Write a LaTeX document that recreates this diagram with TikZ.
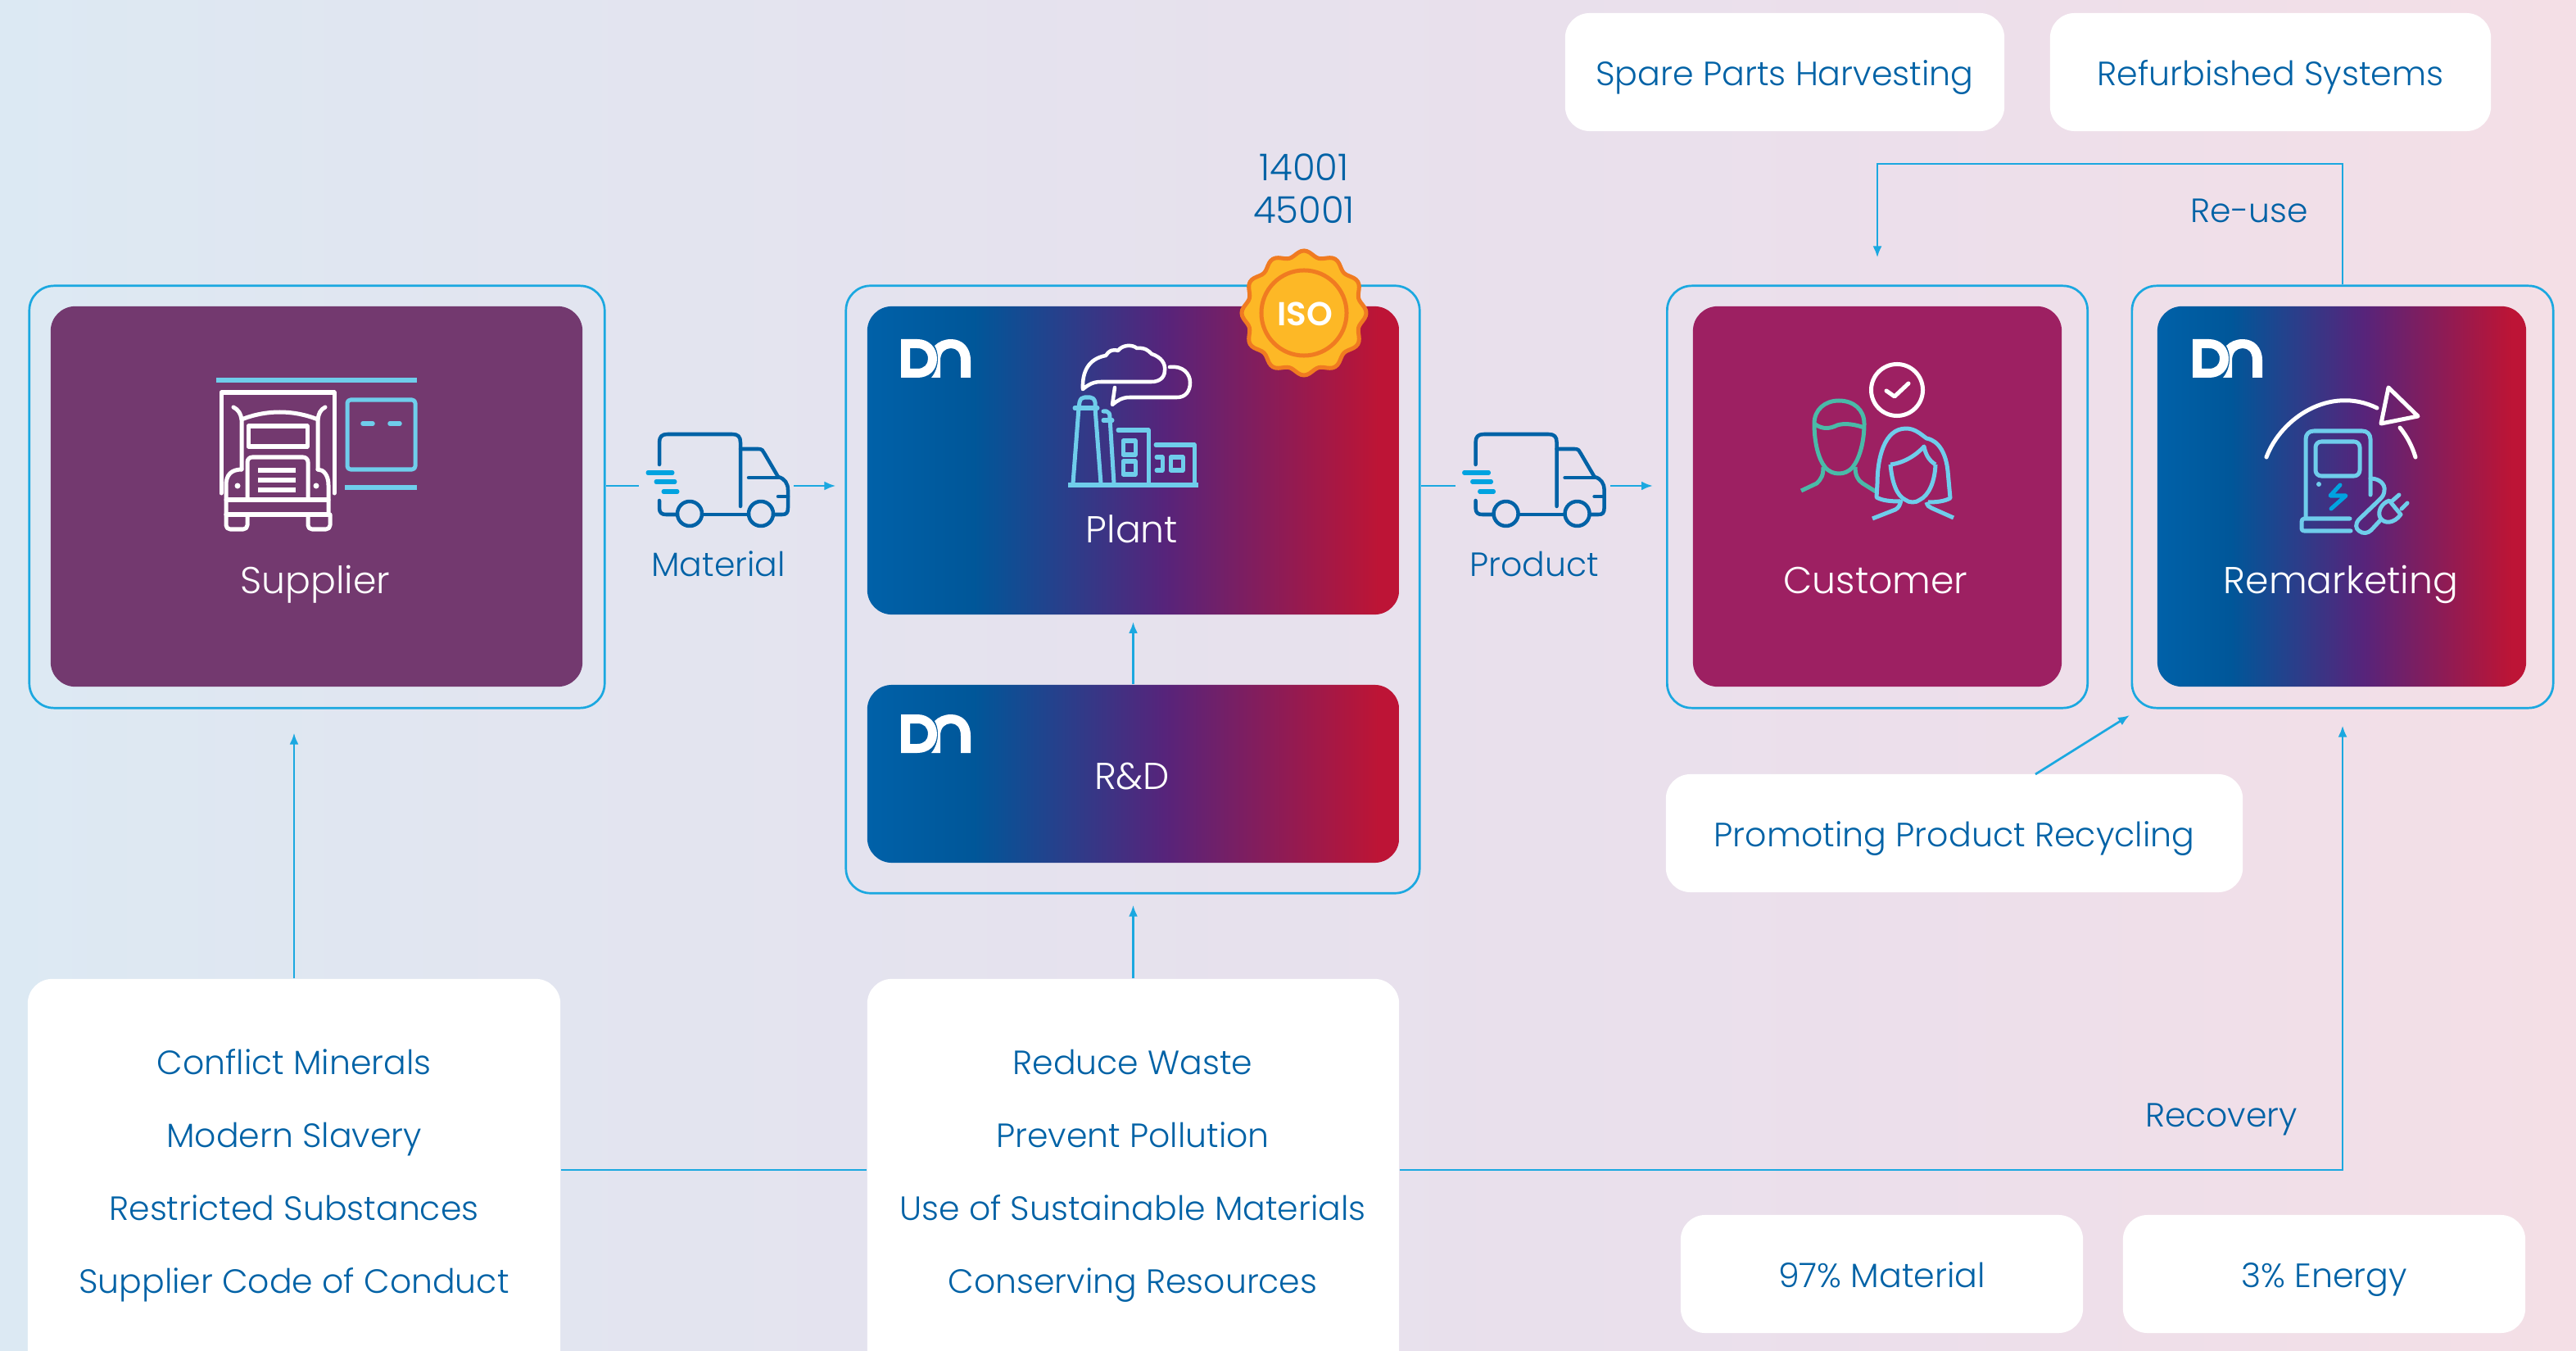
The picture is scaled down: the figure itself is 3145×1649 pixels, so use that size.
\documentclass[tikz,border=0pt]{standalone}
\usepackage{fontspec}
\setmainfont{Poppins}[UprightFont=* Light,BoldFont=* SemiBold]
\usetikzlibrary{arrows.meta}
\definecolor{txtblue}{HTML}{0062A6}
\definecolor{connblue}{HTML}{1BA8E0}
\definecolor{iconblue}{HTML}{6FCDEB}
\definecolor{iconcyan}{HTML}{00A3E0}
\definecolor{icongreen}{HTML}{4ABAA8}
\definecolor{suppurple}{HTML}{73396F}
\definecolor{custmag}{HTML}{9D2062}
\definecolor{isofill}{HTML}{FDB826}
\definecolor{isoline}{HTML}{F07B21}
\pgfdeclarehorizontalshading{dngrad}{100bp}{rgb(0bp)=(0,0.38,0.66); rgb(25bp)=(0,0.38,0.66); rgb(35bp)=(0,0.34,0.60); rgb(53bp)=(0.34,0.14,0.48); rgb(73bp)=(0.74,0.08,0.21); rgb(100bp)=(0.74,0.08,0.21)}
\pgfdeclarehorizontalshading{bggrad}{100bp}{rgb(0bp)=(0.863,0.914,0.953); rgb(25bp)=(0.863,0.914,0.953); rgb(35bp)=(0.886,0.898,0.941); rgb(50bp)=(0.906,0.882,0.929); rgb(62bp)=(0.925,0.875,0.922); rgb(75bp)=(0.957,0.875,0.902); rgb(100bp)=(0.957,0.875,0.902)}
\tikzset{
  x=0.01cm,y=-0.01cm,
  frame/.style={draw=connblue,line width=0.027cm,rounded corners=0.3cm,inner sep=0pt,fill=none},
  solidcard/.style={rounded corners=0.3cm,inner sep=0pt,text=white},
  gradcard/.style={solidcard,shading=dngrad},
  whitecard/.style={fill=white,rounded corners=0.3cm,inner sep=0pt,text=txtblue,font=\fontsize{11.7}{15}\selectfont,align=center,text height=0.43cm,text depth=0.1cm},
  plainlabel/.style={text=txtblue,inner sep=0pt,font=\fontsize{11.65}{15}\selectfont,text height=0.4cm,text depth=0.1cm},
  isolabel/.style={text=txtblue,inner sep=0pt,font=\fontsize{12.8}{15}\selectfont,text height=0.4cm,text depth=0.1cm},
  cardlabel/.style={text=white,inner sep=0pt,font=\fontsize{13}{15}\selectfont,text height=0.43cm,text depth=0.1cm},
  conn/.style={draw=connblue,line width=0.027cm},
  arrowconn/.style={conn,-{Latex[length=0.14cm,width=0.11cm]}},
  icw/.style={draw=white,line width=0.05cm,line cap=round,line join=round},
  icb/.style={draw=iconblue,line width=0.05cm,line cap=round,line join=round},
  icg/.style={draw=icongreen,line width=0.05cm,line join=round},
  dnlogo/.pic={
    \fill[white,even odd rule] (0,0)--(20,0) .. controls (34,0) and (44,10) .. (44,24) .. controls (44,38) and (34,47) .. (20,47)--(0,47)--cycle
      (11,11)--(20,11) .. controls (28,11) and (33,16) .. (33,24) .. controls (33,31) and (28,36) .. (20,36)--(11,36)--cycle;
    \fill[white] (37,47)--(48,47)--(48,26) .. controls (48,16) and (54,11) .. (61,11) .. controls (68,11) and (73,16) .. (73,26)--(73,47)--(85,47)--(85,26) .. controls (85,10) and (75,0) .. (61,0) .. controls (53,0) and (46,3) .. (41,8) .. controls (44,13) and (45,18) .. (45,24) .. controls (45,33) and (42,41) .. (37,47)--cycle;
  },
  truckicon/.pic={
    \begin{scope}[draw=txtblue,line width=0.045cm,line cap=round,line join=round]
      \draw (805,567)--(805,540) .. controls (805,533) and (808,530) .. (815,530)--(894,530) .. controls (901,530) and (904,533) .. (904,540)--(904,618);
      \draw (904,548)--(926,548) .. controls (930,548) and (932,550) .. (933,553)--(950,582) .. controls (958,584) and (962,590) .. (962,598)--(962,620) .. controls (962,626) and (960,628) .. (955,628)--(944,628);
      \draw (914,583)--(950,583);
      \draw (950,606)--(962,606);
      \draw (805,611)--(805,620) .. controls (805,626) and (808,628) .. (813,628)--(827,628);
      \draw (857,628)--(914,628);
      \draw (842,627) circle [radius=0.15cm];
      \draw (929,627) circle [radius=0.15cm];
    \end{scope}
    \begin{scope}[draw=iconcyan,line width=0.05cm,line cap=round]
      \draw (791,577)--(821,577);
      \draw (801,588)--(824,588);
      \draw (810,600)--(827,600);
    \end{scope}
  }
}
\begin{document}
\begin{tikzpicture}
\useasboundingbox (0,0) rectangle (3145,1649);
\clip (0,0) rectangle (3145,1649);
\shade[shading=bggrad] (0,0) rectangle (3145,1649);

% outer frames
\node[frame,minimum width=7.02cm,minimum height=5.15cm] (fSup) at (387,606.5) {};
\node[frame,minimum width=7.00cm,minimum height=7.41cm] (fPlant) at (1383,719.5) {};
\node[frame,minimum width=5.13cm,minimum height=5.15cm] (fCust) at (2292,606.5) {};
\node[frame,minimum width=5.14cm,minimum height=5.15cm] (fRem) at (2860,606.5) {};

% cards
\node[solidcard,fill=suppurple,minimum width=6.49cm,minimum height=4.64cm] (cSup) at (386.5,606) {};
\node[gradcard,minimum width=6.49cm,minimum height=3.76cm] (cPlant) at (1383.5,562) {};
\node[gradcard,minimum width=6.49cm,minimum height=2.17cm] (cRD) at (1383.5,944.5) {};
\node[solidcard,fill=custmag,minimum width=4.50cm,minimum height=4.64cm] (cCust) at (2292,606) {};
\node[gradcard,minimum width=4.50cm,minimum height=4.64cm] (cRem) at (2859,606) {};

% white cards
\node[whitecard,minimum width=5.36cm,minimum height=1.44cm] (wSpare) at (2179,88) {Spare Parts Harvesting};
\node[whitecard,minimum width=5.38cm,minimum height=1.44cm] (wRefurb) at (2772,88) {Refurbished Systems};
\node[whitecard,minimum width=7.04cm,minimum height=1.44cm] (wPromo) at (2386,1017) {Promoting Product Recycling};
\node[whitecard,minimum width=4.91cm,minimum height=1.44cm] (wMat) at (2297.5,1555) {97\% Material};
\node[whitecard,minimum width=4.91cm,minimum height=1.44cm] (wEn) at (2837.5,1555) {3\% Energy};
\node[whitecard,minimum width=6.50cm,minimum height=5.25cm] (wLeft) at (359,1457.5) {};
\node[whitecard,minimum width=6.49cm,minimum height=5.25cm] (wMid) at (1383.5,1457.5) {};

% list texts
\node[plainlabel] (t1) at (359,1296) {Conflict Minerals};
\node[plainlabel] (t2) at (359,1385) {Modern Slavery};
\node[plainlabel] (t3) at (359,1474) {Restricted Substances};
\node[plainlabel] (t4) at (359,1563) {Supplier Code of Conduct};
\node[plainlabel] (t5) at (1383,1296) {Reduce Waste};
\node[plainlabel] (t6) at (1383,1385) {Prevent Pollution};
\node[plainlabel] (t7) at (1383,1474) {Use of Sustainable Materials};
\node[plainlabel] (t8) at (1383,1563) {Conserving Resources};

% labels
\node[cardlabel] (lSup) at (385,708) {Supplier};
\node[cardlabel] (lPlant) at (1382,646) {Plant};
\node[cardlabel] (lRD) at (1382,947) {R\&D};
\node[cardlabel] (lCust) at (2290,708) {Customer};
\node[cardlabel] (lRem) at (2858,708) {Remarketing};
\node[plainlabel] (lMat) at (877,688) {Material};
\node[plainlabel] (lProd) at (1873,688) {Product};
\node[plainlabel] (lReuse) at (2746,256) {Re-use};
\node[plainlabel] (lRecov) at (2712,1360) {Recovery};
\node[isolabel] (lIso1) at (1592,205) {14001};
\node[isolabel] (lIso2) at (1592,257) {45001};

% connectors
\coordinate (mL) at (780,593);
\coordinate (mR) at (969,593);
\coordinate (pL) at (1777,593);
\coordinate (pR) at (1966,593);
\draw[conn] (fSup.east |- mL) -- (mL);
\draw[arrowconn,shorten >=0.11cm] (mR) -- (fPlant.west |- mR);
\draw[conn] (fPlant.east |- pL) -- (pL);
\draw[arrowconn,shorten >=0.16cm] (pR) -- (fCust.west |- pR);
\draw[arrowconn,shorten >=0.29cm] (wLeft.north) -- (wLeft.north |- fSup.south);
\draw[arrowconn,shorten >=0.13cm] (wMid.north) -- (wMid.north |- fPlant.south);
\draw[arrowconn,shorten >=0.08cm] (cRD.north) -- (cPlant.south);
\coordinate (recY) at (0,1428);
\coordinate (reY) at (0,200);
\draw[conn] (wLeft.east |- recY) -- (wMid.west |- recY);
\draw[arrowconn,shorten >=0.20cm] (wMid.east |- recY) -| (fRem.south);
\draw[arrowconn,shorten >=0.33cm] (fRem.north) |- (fCust.north |- reY) -- (fCust.north);
\coordinate (promoStart) at (2485,945);
\coordinate (promoEnd) at (2600,873);
\draw[arrowconn] (promoStart) -- (promoEnd);

% logos
\pic at (1100,414) {dnlogo};
\pic at (1100,872) {dnlogo};
\pic at (2677,414) {dnlogo};
\path pic {truckicon};
\path pic[xshift=9.96cm] {truckicon};

% supplier truck icon
\begin{scope}
  \draw[draw=iconblue,line width=0.06cm] (264,464)--(509,464);
  \draw[draw=iconblue,line width=0.06cm] (421,595)--(509,595);
  \draw[icb,rounded corners=0.04cm] (424,488) rectangle (507,573);
  \draw[draw=iconblue,line width=0.055cm,line cap=round] (443,517)--(455,517) (476,517)--(488,517);
  \draw[icw] (270,602)--(270,479)--(408,479)--(408,602);
  \draw[icw] (295,573)--(295,512) .. controls (325,500) and (358,500) .. (388,512)--(388,573);
  \draw[icw] (285,497) .. controls (291,500) and (294,505) .. (295,512);
  \draw[icw] (397,497) .. controls (391,500) and (389,505) .. (388,512);
  \draw[icw] (303,520) rectangle (375,545);
  \draw[icw,rounded corners=0.06cm] (302,610)--(302,558)--(376,558)--(376,610);
  \draw[draw=white,line width=0.06cm] (315,574)--(361,574) (315,586)--(361,586) (315,598)--(361,598);
  \draw[icw] (295,573) .. controls (282,573) and (276,580) .. (276,592)--(276,628);
  \draw[icw] (388,573) .. controls (395,573) and (401,580) .. (401,592)--(401,628);
  \draw[icw] (276,610)--(401,610) (276,628)--(401,628);
  \draw[icw,rounded corners=0.05cm] (276,628)--(276,646)--(302,646)--(302,628);
  \draw[icw,rounded corners=0.05cm] (376,628)--(376,646)--(403,646)--(403,628);
  \fill[white] (290,593) circle [radius=0.035cm] (386,593) circle [radius=0.035cm];
\end{scope}

% plant icon
\begin{scope}
  \fill[iconblue] (1304,589) rectangle (1463,595);
  \draw[icb] (1310,590)--(1317,498)--(1337,498)--(1344,590);
  \draw[icb] (1312,498)--(1340,498);
  \draw[icb] (1317,498)--(1318,491) .. controls (1319,487) and (1321,485) .. (1324,485)--(1331,485) .. controls (1334,485) and (1336,487) .. (1337,491)--(1337,498);
  \draw[icb] (1347,502)--(1351,502) .. controls (1354,503) and (1355,505) .. (1355,510)--(1360,590);
  \draw[icb] (1347,513)--(1358,513);
  \draw[icb] (1365,525)--(1402,525)--(1402,590);
  \draw[icb] (1371,538) rectangle (1386,555);
  \draw[icb] (1371,563) rectangle (1386,579);
  \draw[icb] (1411,543)--(1458,543)--(1458,590);
  \draw[icb] (1429,558) rectangle (1444,574);
  \draw[icb] (1412,558)--(1419,558)--(1419,574)--(1412,574);
  \draw[icw,line width=0.045cm] (1322,475) .. controls (1321,455) and (1328,438) .. (1350,434) .. controls (1354,428) and (1358,426) .. (1365,428) .. controls (1370,421) and (1382,420) .. (1388,425) .. controls (1398,424) and (1402,428) .. (1406,432) .. controls (1418,436) and (1423,444) .. (1422,452) .. controls (1422,462) and (1414,466) .. (1406,466)--(1344,466) .. controls (1334,466) and (1328,470) .. (1322,475);
  \draw[icw,line width=0.045cm] (1428,448) .. controls (1444,446) and (1453,456) .. (1453,467) .. controls (1453,478) and (1447,485) .. (1437,485)--(1379,485) .. controls (1370,485) and (1364,489) .. (1358,494)--(1361,473);
\end{scope}

% ISO badge
\node[inner sep=0pt,minimum size=0pt] (isoC) at (1592,382) {};
\draw[fill=isofill,draw=isoline,line width=0.05cm,smooth] plot[domain=0:360,samples=145,variable=\t] ({1592+(72.5+3.5*cos(12*\t))*cos(\t)},{382+(72.5+3.5*cos(12*\t))*sin(\t)});
\draw[draw=isoline,line width=0.05cm] (isoC) circle [radius=0.52cm];
\node[text=white,inner sep=0pt,font=\bfseries\fontsize{11.5}{13}\selectfont] (isoT) at (1593,383) {ISO};

% customer icon
\begin{scope}
  \draw[icw] (2316,476) circle [radius=0.315cm];
  \draw[icw] (2303,477)--(2313,484)--(2330,468);
  \draw[icg] (2215,517) .. controls (2215,500) and (2228,489) .. (2245,489) .. controls (2263,489) and (2276,500) .. (2276,517) .. controls (2276,540) and (2270,560) .. (2262,570) .. controls (2257,576) and (2251,578) .. (2245,578) .. controls (2239,578) and (2233,576) .. (2228,570) .. controls (2220,560) and (2215,540) .. (2215,517)--cycle;
  \draw[icg] (2215,517) .. controls (2225,525) and (2235,523) .. (2243,519) .. controls (2252,516) and (2265,518) .. (2276,522);
  \draw[icg] (2226,570) .. controls (2226,580) and (2224,584) .. (2218,590)--(2199,599);
  \draw[icg] (2265,570) .. controls (2265,580) and (2268,586) .. (2274,590)--(2290,600);
  \begin{scope}[draw=iconblue,line width=0.05cm,line join=round]
    \draw (2320,612) .. controls (2308,612) and (2298,611) .. (2291,607)--(2292,590) .. controls (2292,560) and (2300,523) .. (2327,523) .. controls (2338,523) and (2345,530) .. (2352,535) .. controls (2368,538) and (2376,555) .. (2378,575)--(2381,608) .. controls (2374,612) and (2364,613) .. (2354,613);
    \draw (2308,567) .. controls (2310,590) and (2316,605) .. (2326,610) .. controls (2331,614) and (2339,614) .. (2344,610) .. controls (2354,605) and (2362,590) .. (2363,567);
    \draw (2308,567) .. controls (2325,565) and (2340,555) .. (2349,545) .. controls (2351,555) and (2355,562) .. (2363,567);
    \draw (2321,610) .. controls (2320,616) and (2318,620) .. (2314,622)--(2286,633);
    \draw (2352,613) .. controls (2353,617) and (2355,619) .. (2358,620)--(2385,632);
  \end{scope}
\end{scope}

% remarketing icon
\begin{scope}
  \draw[icw] (2767,558) .. controls (2785,510) and (2845,470) .. (2902,498);
  \draw[icw] (2930,522) .. controls (2939,533) and (2945,545) .. (2949,558);
  \draw[icw] (2916,473)--(2952,508)--(2907,517)--cycle;
  \draw[icb] (2815,632)--(2815,536) .. controls (2815,530) and (2819,526) .. (2825,526)--(2884,526) .. controls (2890,526) and (2894,530) .. (2894,536)--(2894,604);
  \draw[icb,rounded corners=0.07cm] (2827,539) rectangle (2881,581);
  \fill[iconblue] (2831,591) circle [radius=0.03cm];
  \draw[draw=iconcyan,line width=0.05cm,line cap=round,line join=round] (2857,592)--(2845,605)--(2864,605)--(2846,621);
  \draw[icb] (2869,633)--(2815,633) -- (2813,633) .. controls (2811,633) and (2810,635) .. (2810,637)--(2810,645) .. controls (2810,647) and (2811,648) .. (2813,648)--(2870,648);
  \draw[icb] (2894,584) .. controls (2906,584) and (2912,592) .. (2911,598) .. controls (2911,603) and (2909,606) .. (2906,609)--(2880,634) .. controls (2875,640) and (2876,645) .. (2880,648) .. controls (2885,652) and (2891,651) .. (2895,647)--(2907,634);
  \draw[icb] (2917,611) .. controls (2908,614) and (2902,624) .. (2906,632) .. controls (2911,640) and (2923,639) .. (2931,628)--cycle;
  \draw[icb] (2921,611)--(2929,604) (2932,621)--(2939,614);
\end{scope}
\end{tikzpicture}
\end{document}
